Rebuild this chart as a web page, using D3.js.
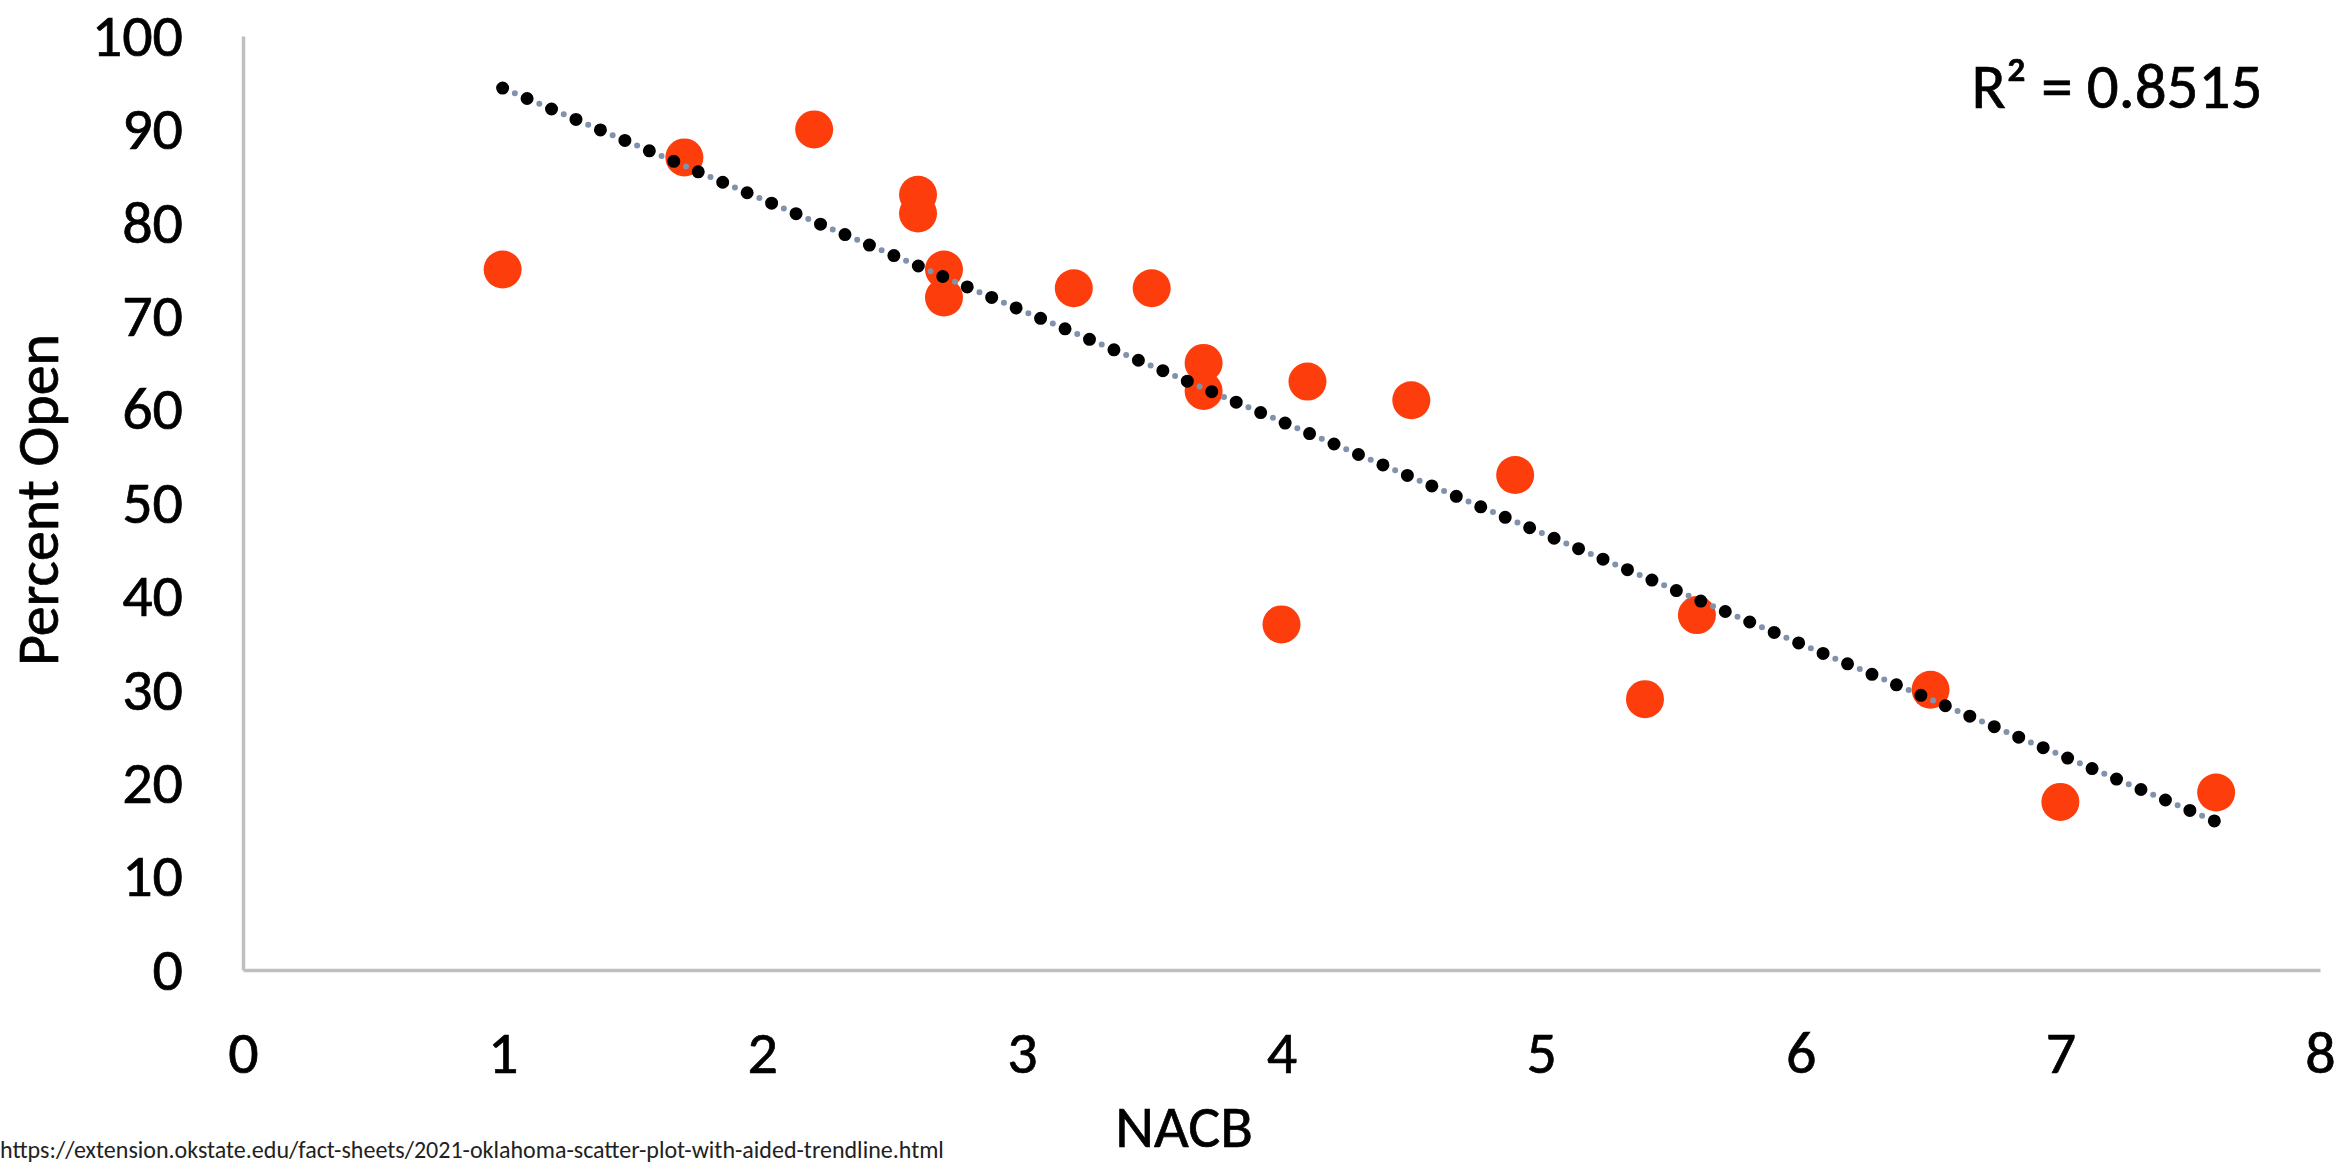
<!DOCTYPE html>
<html>
<head>
<meta charset="utf-8">
<script src="https://cdn.jsdelivr.net/npm/d3@7"></script>
<style>
  body { margin: 0; background: #fff; }
  svg { display: block; font-family: Carlito, "Open Sans", sans-serif; }
  .lbl { stroke: #000; stroke-width: 0.7px; }
</style>
</head>
<body>
<div id="chart"></div>
<script>
// values
var nacb = [1.0, 1.7, 2.2, 2.6, 2.6, 2.7, 2.7, 3.2, 3.5, 3.7, 3.7, 4.1, 4.5, 4.9, 4.0, 5.4, 5.6, 6.5, 7.0, 7.6];
var percentOpen = [75, 87, 90, 83, 81, 75, 72, 73, 73, 65, 62, 63, 61, 53, 37, 29, 38, 30, 18, 19];
var xTicks = [0, 1, 2, 3, 4, 5, 6, 7, 8];
var yTicks = [0, 10, 20, 30, 40, 50, 60, 70, 80, 90, 100];
var rSquaredLabel = "R\u00b2 = 0.8515";
var sourceText = "https://extension.okstate.edu/fact-sheets/2021-oklahoma-scatter-plot-with-aided-trendline.html";

var W = 2338, H = 1165;
var margin = {top: 36, right: 18, bottom: 195, left: 243},
    width = W - margin.left - margin.right,
    height = H - margin.top - margin.bottom;

var svg = d3.select("#chart")
    .append("svg")
    .attr("width", W)
    .attr("height", H);

svg.append("rect").attr("width", W).attr("height", H).attr("fill", "#fff");

var g = svg.append("g")
    .attr("transform", "translate(" + margin.left + "," + margin.top + ")");

var data = nacb.map(function(d, i) { return {x: d, y: percentOpen[i]}; });

var x = d3.scaleLinear().domain([0, 8]).range([0, width]);
var y = d3.scaleLinear().domain([0, 100]).range([height, 0]);

var xAxis = g.append("g")
    .attr("transform", "translate(0," + height + ")")
    .call(d3.axisBottom(x).tickValues(xTicks).tickSize(0).tickSizeOuter(0).tickPadding(60));

var yAxis = g.append("g")
    .call(d3.axisLeft(y).tickValues(yTicks).tickSize(0).tickSizeOuter(0).tickPadding(60));

[xAxis, yAxis].forEach(function(a) {
    a.attr("font-family", null).attr("font-size", null);
    a.select(".domain").attr("stroke", "#bfbfbf").attr("stroke-width", 3.5);
    a.selectAll("text").attr("class", "lbl").attr("fill", "#000").style("font-size", "60px");
});

// points
g.append("g")
    .selectAll("circle")
    .data(data)
    .enter().append("circle")
    .attr("cx", function(d) { return x(d.x); })
    .attr("cy", function(d) { return y(d.y); })
    .attr("r", 19)
    .attr("fill", "#fe3d0c");

// linear trendline, least squares from the points
var mx = d3.mean(data, function(d) { return d.x; });
var my = d3.mean(data, function(d) { return d.y; });
var sxy = d3.sum(data, function(d) { return (d.x - mx) * (d.y - my); });
var sxx = d3.sum(data, function(d) { return (d.x - mx) * (d.x - mx); });
var slope = sxy / sxx, icpt = my - slope * mx;
var x0 = d3.min(nacb), x1 = d3.max(nacb);
var trend = [[x0, icpt + slope * x0], [x1, icpt + slope * x1]];

var line = d3.line()
    .x(function(d) { return x(d[0]); })
    .y(function(d) { return y(d[1]); });

var step = 26.6;
g.append("path")
    .datum(trend)
    .attr("d", line)
    .attr("fill", "none")
    .attr("stroke", "#7f93ad")
    .attr("stroke-width", 6)
    .attr("stroke-linecap", "round")
    .attr("stroke-dasharray", "0 " + step)
    .attr("stroke-dashoffset", -step / 2);

g.append("path")
    .datum(trend)
    .attr("d", line)
    .attr("fill", "none")
    .attr("stroke", "#000")
    .attr("stroke-width", 13)
    .attr("stroke-linecap", "round")
    .attr("stroke-dasharray", "0 " + step);

// labels
svg.append("text")
    .attr("class", "lbl")
    .attr("x", 2117)
    .attr("y", 108)
    .attr("text-anchor", "middle")
    .style("font-size", "63px")
    .text(rSquaredLabel);

svg.append("text")
    .attr("class", "lbl")
    .attr("transform", "translate(58,500) rotate(-90)")
    .attr("text-anchor", "middle")
    .style("font-size", "60px")
    .text("Percent Open");

svg.append("text")
    .attr("class", "lbl")
    .attr("x", 1184)
    .attr("y", 1147)
    .attr("text-anchor", "middle")
    .style("font-size", "60px")
    .text("NACB");

svg.append("text")
    .attr("x", 0)
    .attr("y", 1158)
    .style("font-size", "24px")
    .attr("fill", "#222")
    .text(sourceText);
</script>
</body>
</html>
